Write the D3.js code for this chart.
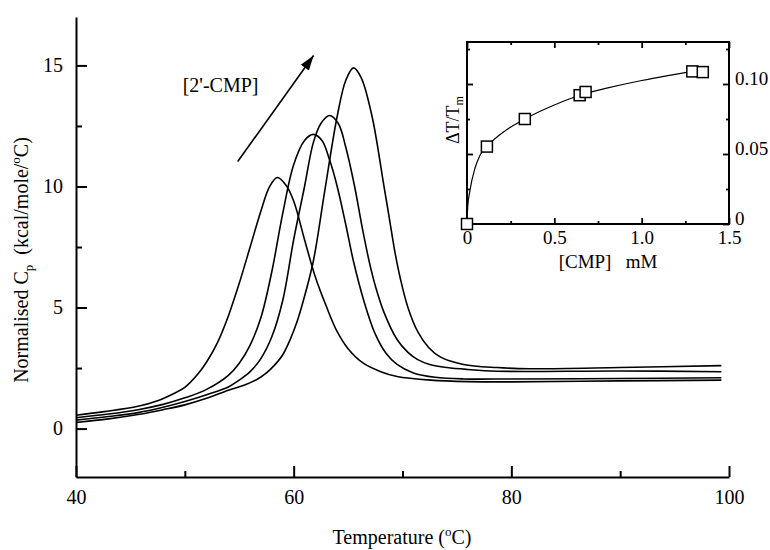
<!DOCTYPE html>
<html lang="en">
<head>
<meta charset="UTF-8">
<title>DSC 2'-CMP</title>
<script src="https://d3js.org/d3.v7.min.js"></script>
<style>
  body { margin: 0; background: #fff; }
  svg { display: block; background: #fff; }
  svg text { font-family: "Liberation Serif", Tinos, "Times New Roman", "Nimbus Roman", "DejaVu Serif", serif !important; fill: #000; }
  .axis path, .axis line { stroke: #000; stroke-width: 2px; fill: none; }
  .axis text { font-size: 20px; }
  .inset .axis path, .inset .axis line { stroke-width: 1.8px; }
  .inset .axis text { font-size: 19px; }
  path.cp { fill: none; stroke: #000; stroke-width: 1.6px; }
  path.fit { fill: none; stroke: #000; stroke-width: 1.2px; }
</style>
</head>
<body>
<div id="chart"></div>
<script>
// main DSC traces (temperature in oC, Cp in kcal/mole/oC)
const c1T  = [40, 42.6, 45.7, 47.5, 49, 50, 51.2, 52, 53, 54, 55, 56, 57, 57.8, 58.5, 59.3, 60, 61, 62, 63, 64, 65, 66.4, 68, 69.5, 72.6, 76, 80, 90, 99.3];
const c1Cp = [0.55, 0.70, 0.92, 1.15, 1.45, 1.7, 2.25, 2.75, 3.55, 4.65, 6.0, 7.5, 9.0, 10.0, 10.37, 10.05, 9.4, 7.8, 6.25, 5.05, 4.0, 3.3, 2.7, 2.35, 2.15, 2.0, 1.94, 1.93, 1.97, 2.0];

const c2T  = [40, 43, 45.7, 48, 50, 52, 54, 55, 56, 57, 58, 59, 60, 61, 61.8, 62.6, 63.3, 64, 64.8, 65.5, 66.5, 67.5, 68.5, 69.5, 71, 73, 75.6, 80, 90, 99.3];
const c2Cp = [0.45, 0.6, 0.78, 1.0, 1.27, 1.62, 2.2, 2.7, 3.45, 4.6, 6.5, 8.9, 10.9, 11.9, 12.15, 11.9, 11.1, 10.0, 8.4, 6.9, 5.2, 3.9, 3.1, 2.65, 2.3, 2.12, 2.05, 2.05, 2.07, 2.1];

const c3T  = [40, 43, 45.7, 48, 50, 52, 54, 55, 56, 57, 58, 59, 60, 61, 61.8, 62.5, 63.3, 64.1, 64.8, 65.6, 66.3, 67, 67.5, 68.3, 69.5, 70.5, 71.4, 72.5, 74.1, 76, 78.7, 90, 99.3];
const c3Cp = [0.35, 0.5, 0.66, 0.88, 1.12, 1.4, 1.72, 2.0, 2.35, 2.9, 3.8, 5.3, 7.8, 10.0, 11.8, 12.6, 12.93, 12.6, 11.6, 10.0, 8.3, 6.78, 5.9, 4.8, 3.68, 3.15, 2.85, 2.65, 2.52, 2.44, 2.37, 2.38, 2.35];

const c4T  = [40, 43, 45.7, 48, 50, 52, 54, 55.5, 56.7, 57.5, 58.2, 59, 59.7, 60.3, 60.9, 61.8, 62.85, 64.0, 64.8, 65.5, 66.2, 67.2, 68.3, 68.75, 69.3, 69.8, 70.5, 71.4, 72.4, 73.5, 75.6, 78.7, 81.7, 90, 99.3];
const c4Cp = [0.25, 0.4, 0.58, 0.78, 0.98, 1.25, 1.58, 1.8, 2.05, 2.3, 2.6, 3.05, 3.7, 4.4, 5.3, 6.9, 9.8, 12.9, 14.4, 14.9, 14.5, 12.9, 10.0, 8.8, 7.3, 6.2, 5.0, 4.0, 3.35, 2.95, 2.65, 2.52, 2.47, 2.52, 2.6];

// inset: dT/Tm against [CMP] (mM)
const cmpConc = [0, 0.114, 0.331, 0.645, 0.679, 1.29, 1.35];
const dTTm    = [0, 0.0553, 0.075, 0.092, 0.0943, 0.109, 0.1085];
const fitConc = [0, 0.004, 0.017, 0.046, 0.074, 0.114, 0.22, 0.331, 0.5, 0.66, 0.8, 1.0, 1.15, 1.29];
const fitDT   = [0, 0.012, 0.024, 0.040, 0.049, 0.0553, 0.0667, 0.075, 0.085, 0.0925, 0.097, 0.1025, 0.106, 0.109];

// ticks
const xMajor = [40, 60, 80, 100], xMinor = [50, 70, 90];
const yMajor = [0, 5, 10, 15], yMinor = [2.5, 7.5, 12.5];
const ixMajor = [0, 0.5, 1.0, 1.5], ixMinor = [0.25, 0.75, 1.25];
const iyMajor = [0, 0.05, 0.10], iyMinor = [0.025, 0.075, 0.125];

// annotation arrow, in data units
const arrowFrom = [54.86, 11.03], arrowTo = [61.83, 15.41];
const arrowLabel = [49.8, 13.9];

const W = 770, H = 550;
const svg = d3.select("#chart").append("svg").attr("width", W).attr("height", H);

// SCALES
const x = d3.scaleLinear().domain([40, 100]).range([76, 729]);
const y = d3.scaleLinear().domain([-2, 17]).range([477, 17]);

// AXES
svg.append("g").attr("class", "axis").attr("transform", "translate(0,477)")
  .call(d3.axisBottom(x).tickValues(xMajor).tickSize(-11).tickSizeOuter(0).tickPadding(13));
svg.append("g").attr("class", "axis").attr("transform", "translate(0,477)")
  .call(d3.axisBottom(x).tickValues(xMinor).tickSize(-6).tickSizeOuter(0).tickFormat(""))
  .select(".domain").remove();

svg.append("g").attr("class", "axis").attr("transform", "translate(76,0)")
  .call(d3.axisLeft(y).tickValues(yMajor).tickSize(-11).tickSizeOuter(0).tickPadding(13));
svg.append("g").attr("class", "axis").attr("transform", "translate(76,0)")
  .call(d3.axisLeft(y).tickValues(yMinor).tickSize(-6).tickSizeOuter(0).tickFormat(""))
  .select(".domain").remove();
svg.selectAll(".axis").attr("font-family", null);

// CURVES
const line = d3.line()
  .x(d => x(d[0])).y(d => y(d[1]))
  .curve(d3.curveCatmullRom.alpha(0.5));

const traces = [[c1T, c1Cp], [c2T, c2Cp], [c3T, c3Cp], [c4T, c4Cp]]
  .map(([t, c]) => t.map((v, i) => [v, c[i]]));

svg.selectAll("path.cp").data(traces).enter()
  .append("path").attr("class", "cp").attr("d", line);

// arrow + label
svg.append("defs").append("marker")
  .attr("id", "head").attr("markerUnits", "userSpaceOnUse")
  .attr("markerWidth", 16).attr("markerHeight", 12)
  .attr("refX", 15).attr("refY", 6).attr("orient", "auto")
  .append("path").attr("d", "M0,1 L15,6 L0,11 Z").attr("fill", "#000");

svg.append("line")
  .attr("x1", x(arrowFrom[0])).attr("y1", y(arrowFrom[1]))
  .attr("x2", x(arrowTo[0])).attr("y2", y(arrowTo[1]))
  .attr("stroke", "#000").attr("stroke-width", 1.6)
  .attr("marker-end", "url(#head)");

svg.append("text")
  .attr("x", x(arrowLabel[0])).attr("y", y(arrowLabel[1]))
  .style("font-size", "20px")
  .text("[2'-CMP]");

// axis titles
const xt = svg.append("text").attr("x", 402).attr("y", 544)
  .attr("text-anchor", "middle").style("font-size", "20px");
xt.append("tspan").text("Temperature (");
xt.append("tspan").text("o").style("font-size", "13px").attr("dy", -8);
xt.append("tspan").text("C)").attr("dy", 8);

const yt = svg.append("text").attr("transform", "translate(28,260) rotate(-90)")
  .attr("text-anchor", "middle").style("font-size", "20px");
yt.append("tspan").text("Normalised C");
yt.append("tspan").text("p").style("font-size", "13px").attr("dy", 5);
yt.append("tspan").text("\u00a0\u00a0(kcal/mole/").attr("dy", -5);
yt.append("tspan").text("o").style("font-size", "13px").attr("dy", -8);
yt.append("tspan").text("C)").attr("dy", 8);

// INSET
const inset = svg.append("g").attr("class", "inset");
const ix = d3.scaleLinear().domain([0, 1.5]).range([467, 729]);
const iy = d3.scaleLinear().domain([0, 0.13]).range([224, 42]);

inset.append("rect")
  .attr("x", 467).attr("y", 42).attr("width", 262).attr("height", 182)
  .attr("fill", "#fff").attr("stroke", "#000").attr("stroke-width", 2);

inset.append("g").attr("class", "axis").attr("transform", "translate(0,224)")
  .call(d3.axisBottom(ix).tickValues(ixMajor).tickSize(-6).tickSizeOuter(0).tickPadding(7)
    .tickFormat(d => d === 0 ? "0" : d3.format(".1f")(d)));
inset.append("g").attr("class", "axis").attr("transform", "translate(0,224)")
  .call(d3.axisBottom(ix).tickValues(ixMinor).tickSize(-3).tickFormat(""));
inset.append("g").attr("class", "axis").attr("transform", "translate(0,42)")
  .call(d3.axisTop(ix).tickValues(ixMajor).tickSize(-6).tickFormat(""));
inset.append("g").attr("class", "axis").attr("transform", "translate(0,42)")
  .call(d3.axisTop(ix).tickValues(ixMinor).tickSize(-3).tickFormat(""));

inset.append("g").attr("class", "axis").attr("transform", "translate(467,0)")
  .call(d3.axisLeft(iy).tickValues(iyMajor).tickSize(-6).tickFormat(""));
inset.append("g").attr("class", "axis").attr("transform", "translate(467,0)")
  .call(d3.axisLeft(iy).tickValues(iyMinor).tickSize(-3).tickFormat(""));
const ry = inset.append("g").attr("class", "axis").attr("transform", "translate(729,0)")
  .call(d3.axisRight(iy).tickValues(iyMajor).tickSize(-6).tickPadding(6)
    .tickFormat(d => d === 0 ? "0" : d3.format(".2f")(d)));
ry.selectAll("text").attr("dy", "0em");
inset.append("g").attr("class", "axis").attr("transform", "translate(729,0)")
  .call(d3.axisRight(iy).tickValues(iyMinor).tickSize(-3).tickFormat(""));
inset.selectAll(".domain").remove();
inset.selectAll(".axis").attr("font-family", null);

const fitLine = d3.line()
  .x((d, i) => ix(fitConc[i])).y((d, i) => iy(fitDT[i]))
  .curve(d3.curveMonotoneX);
inset.append("path").attr("class", "fit").attr("d", fitLine(fitConc));

const sq = 11;
inset.selectAll("rect.pt").data(cmpConc).enter()
  .append("rect").attr("class", "pt")
  .attr("x", d => ix(d) - sq / 2)
  .attr("y", (d, i) => iy(dTTm[i]) - sq / 2)
  .attr("width", sq).attr("height", sq)
  .attr("fill", "#fff").attr("stroke", "#000").attr("stroke-width", 1.5);

inset.append("text").attr("x", 608).attr("y", 268)
  .attr("text-anchor", "middle").style("font-size", "19px")
  .text("[CMP]\u00a0\u00a0\u00a0mM");

const it = inset.append("text").attr("transform", "translate(459,120) rotate(-90)")
  .attr("text-anchor", "middle").style("font-size", "18px");
it.append("tspan").text("\u0394T/T");
it.append("tspan").text("m").style("font-size", "12px").attr("dy", 4);
</script>
</body>
</html>
